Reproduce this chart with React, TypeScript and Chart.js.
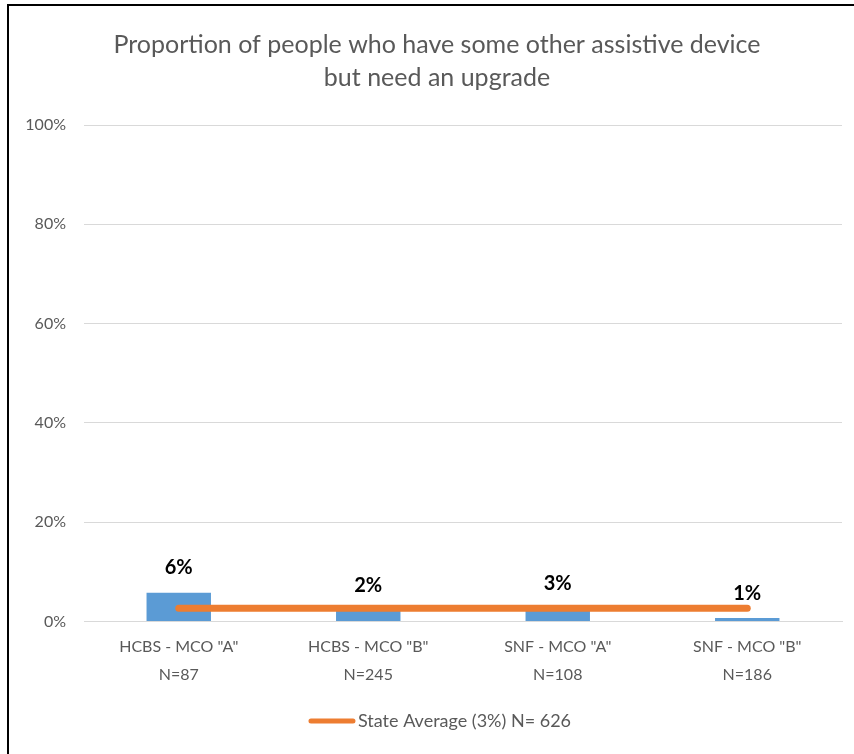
import React, { useEffect, useRef } from "react";
import { Chart, registerables } from "chart.js";

Chart.register(...registerables);

const titleLines = ["Proportion of people who have some other assistive device", "but need an upgrade"];
const categories = [
  ['HCBS - MCO "A"', "N=87"],
  ['HCBS - MCO "B"', "N=245"],
  ['SNF - MCO "A"', "N=108"],
  ['SNF - MCO "B"', "N=186"],
];
const barValues = [5.8, 2.3, 2.7, 0.7];
const barLabels = ["6%", "2%", "3%", "1%"];
const stateAverage = [2.7, 2.7, 2.7, 2.7];
const stateAverageLabel = "State Average (3%) N= 626";
const yTicks = [0, 20, 40, 60, 80, 100];

const FONT = "Lato, 'Open Sans', sans-serif";
const GRAY = "#595959";
const ORANGE = "#ED7D31";

const barLabelPlugin = {
  id: "barLabels",
  afterDatasetsDraw(chart: any) {
    const meta = chart.getDatasetMeta(1);
    const ctx = chart.ctx;
    ctx.save();
    ctx.font = `bold 20px ${FONT}`;
    ctx.fillStyle = "#000000";
    ctx.textAlign = "center";
    ctx.textBaseline = "middle";
    meta.data.forEach((el: any, i: number) => {
      ctx.fillText(barLabels[i], el.x, el.y - 25);
    });
    ctx.restore();
  },
};

const titlePlugin = {
  id: "customTitle",
  afterDraw(chart: any) {
    const ctx = chart.ctx;
    ctx.save();
    ctx.font = `25px ${FONT}`;
    ctx.fillStyle = GRAY;
    ctx.textAlign = "center";
    ctx.textBaseline = "middle";
    const cx = (chart.chartArea.left + chart.chartArea.right) / 2 - 26;
    titleLines.forEach((line, i) => {
      ctx.fillText(line, cx, chart.chartArea.top - 80 + i * 33);
    });
    ctx.restore();
  },
};

const legendPlugin = {
  id: "lineLegend",
  afterDraw(chart: any) {
    const ctx = chart.ctx;
    ctx.save();
    ctx.font = `18px ${FONT}`;
    const tw = ctx.measureText(stateAverageLabel).width;
    const lineLen = 46;
    const gap = 3;
    const total = lineLen + gap + tw;
    const cx = (chart.chartArea.left + chart.chartArea.right) / 2 - 23;
    const x0 = cx - total / 2;
    const y = chart.height - 33;
    ctx.strokeStyle = ORANGE;
    ctx.lineWidth = 5;
    ctx.lineCap = "round";
    ctx.beginPath();
    ctx.moveTo(x0 + 2, y);
    ctx.lineTo(x0 + lineLen - 2, y);
    ctx.stroke();
    ctx.fillStyle = GRAY;
    ctx.textAlign = "left";
    ctx.textBaseline = "middle";
    ctx.fillText(stateAverageLabel, x0 + lineLen + gap, y);
    ctx.restore();
  },
};

export default function App() {
  const ref = useRef<HTMLCanvasElement>(null);
  useEffect(() => {
    if (!ref.current) return;
    const chart = new Chart(ref.current, {
      type: "bar",
      data: {
        labels: categories,
        datasets: [
          {
            type: "line",
            label: stateAverageLabel,
            data: stateAverage,
            borderColor: ORANGE,
            backgroundColor: ORANGE,
            borderWidth: 7,
            borderCapStyle: "round",
            pointRadius: 0,
            order: 0,
          } as any,
          {
            type: "bar",
            label: "Proportion",
            data: barValues,
            backgroundColor: "#5B9BD5",
            categoryPercentage: 1,
            barPercentage: 0.34,
            order: 1,
          },
        ],
      },
      options: {
        responsive: false,
        animation: false,
        layout: { padding: { top: 125, right: 12, left: 0, bottom: 54 } },
        plugins: {
          title: { display: false },
          legend: { display: false },
          tooltip: { enabled: false },
        },
        scales: {
          x: {
            grid: { display: false, drawTicks: false },
            border: { display: true, color: "#D9D9D9", width: 1 },
            ticks: {
              color: GRAY,
              font: { family: FONT, size: 16, lineHeight: 1.7 },
              padding: 12,
              maxRotation: 0,
              autoSkip: false,
            },
          },
          y: {
            min: 0,
            max: 100,
            afterBuildTicks: (s: any) => {
              s.ticks = yTicks.map((v) => ({ value: v }));
            },
            afterFit: (s: any) => {
              s.width = 84;
            },
            grid: { color: "#D9D9D9", drawTicks: false },
            border: { display: false },
            ticks: {
              color: GRAY,
              font: { family: FONT, size: 16 },
              padding: 18,
              callback: (v: any) => `${v}%`,
            },
          },
        },
      },
      plugins: [barLabelPlugin, titlePlugin, legendPlugin],
    });
    return () => chart.destroy();
  }, []);
  return (
    <div style={{ position: "fixed", left: 0, top: 0, width: 854, height: 754, background: "#fff" }}>
      <canvas ref={ref} width={854} height={754} style={{ position: "absolute", left: 0, top: 0 }} />
      <div
        style={{
          position: "absolute",
          left: 7,
          top: 4,
          width: 847,
          height: 750,
          borderLeft: "2px solid #000",
          borderTop: "2px solid #000",
          boxSizing: "border-box",
          pointerEvents: "none",
        }}
      />
    </div>
  );
}
